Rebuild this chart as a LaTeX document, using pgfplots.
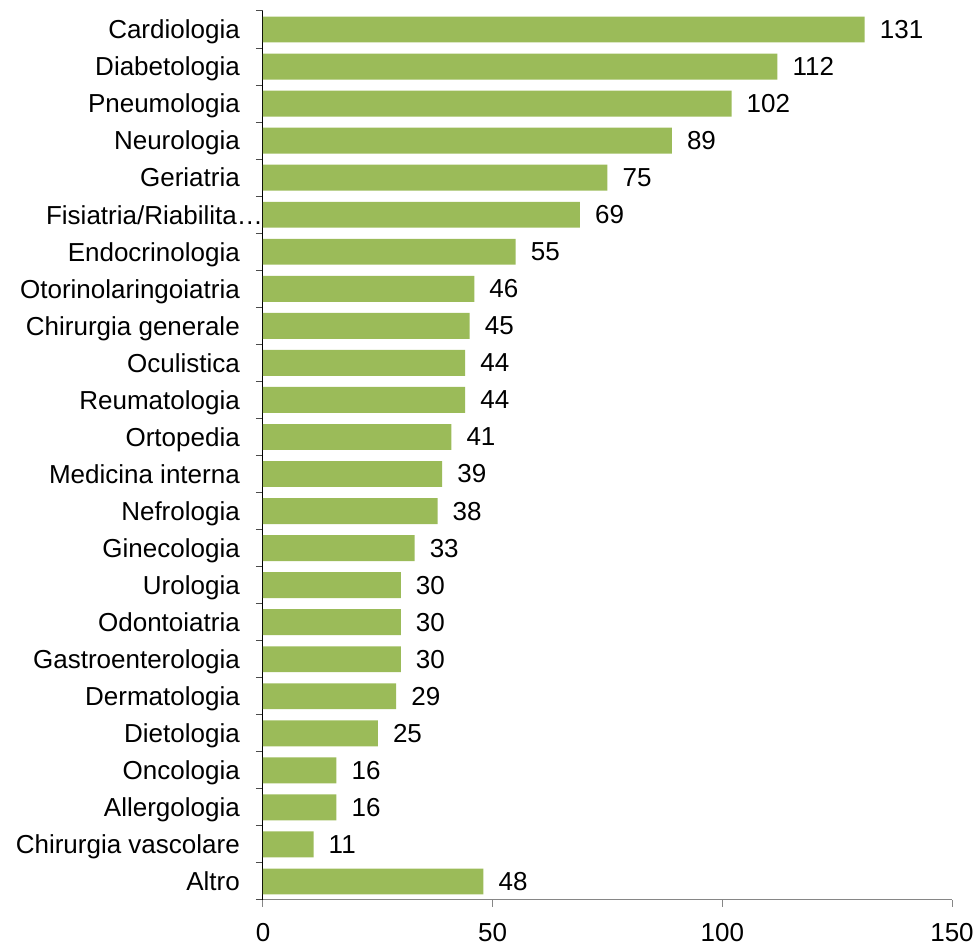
\documentclass[border=0pt]{standalone}
\usepackage{pgfplots}
\pgfplotsset{compat=1.18}
\usepackage{fontspec}
\setmainfont{Liberation Sans}
\definecolor{bargreen}{HTML}{9BBB59}
\definecolor{axisgray}{HTML}{868686}
\begin{document}
\fontsize{26}{31}\selectfont
\begin{tikzpicture}
\path[use as bounding box] (-263pt,-45pt) rectangle (715pt,900pt);
\begin{axis}[
    at={(0,0)}, anchor=south west,
    scale only axis,
    width=689pt, height=889pt,
    xbar, bar width=0.7,
    xmin=0, xmax=150,
    ymin=0.5, ymax=24.5,
    xtick={0,50,100,150},
    ytick={1,...,24},
    minor ytick={0.5,1.5,...,24.5},
    yticklabels={Altro, Chirurgia vascolare, Allergologia, Oncologia, Dietologia,
        Dermatologia, Gastroenterologia, Odontoiatria, Urologia, Ginecologia,
        Nefrologia, Medicina interna, Ortopedia, Reumatologia, Oculistica,
        Chirurgia generale, Otorinolaringoiatria, Endocrinologia,
        Fisiatria/Riabilita…\kern-23pt, Geriatria, Neurologia, Pneumologia,
        Diabetologia, Cardiologia},
    axis lines*=left,
    axis line style={-},
    x axis line style={axisgray, line width=1pt},
    y axis line style={black, line width=1pt},
    tick align=outside,
    major tick length=7pt, minor tick length=7pt,
    major x tick style={axisgray, line width=1pt},
    major y tick style={draw=none},
    minor y tick style={black!70, line width=1pt},
    /pgf/number format/assume math mode=true,
    yticklabel style={anchor=base east, inner sep=0pt, xshift=-16pt, yshift=-9.3pt},
    xticklabel style={anchor=north, inner sep=0pt, yshift=-16pt},
    nodes near coords,
    every node near coord/.append style={anchor=west, inner sep=0pt, xshift=15pt, black},
]
\addplot[fill=bargreen, draw=none] coordinates {
    (48,1) (11,2) (16,3) (16,4) (25,5) (29,6) (30,7) (30,8) (30,9) (33,10)
    (38,11) (39,12) (41,13) (44,14) (44,15) (45,16) (46,17) (55,18)
    (69,19) (75,20) (89,21) (102,22) (112,23) (131,24)
};
\end{axis}
\end{tikzpicture}
\end{document}
